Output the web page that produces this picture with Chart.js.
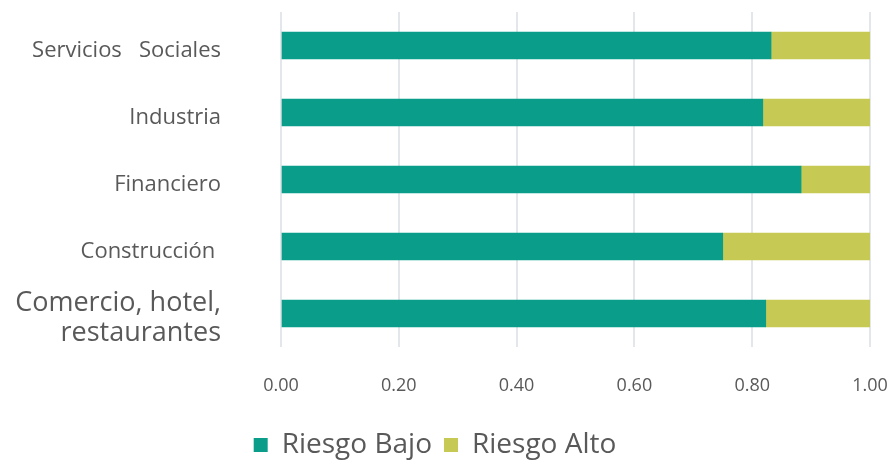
<!DOCTYPE html>
<html>
<head>
<meta charset="utf-8">
<script src="https://cdn.jsdelivr.net/npm/chart.js@4"></script>
<style>
  html, body { margin: 0; padding: 0; background: #fff; }
  #wrap { width: 891px; height: 461px; }
</style>
</head>
<body>
<div id="wrap"><canvas id="chart" width="891" height="461"></canvas></div>
<script>
const categories = [
  "Servicios   Sociales",
  "Industria",
  "Financiero",
  "Construcción ",
  ["Comercio, hotel,", "restaurantes"]
];
const riesgoBajo = [0.832, 0.818, 0.883, 0.750, 0.823];
const riesgoAlto = [0.168, 0.182, 0.117, 0.250, 0.177];
const xTicks = [0, 0.2, 0.4, 0.6, 0.8, 1.0];

const textColor = "#595959";
const fontFamily = "'Open Sans', Lato, sans-serif";

const ctx = document.getElementById("chart").getContext("2d");
new Chart(ctx, {
  type: "bar",
  data: {
    labels: categories,
    datasets: [
      { label: "Riesgo Bajo", data: riesgoBajo, backgroundColor: "#0A9E8A", barThickness: 27 },
      { label: "Riesgo Alto", data: riesgoAlto, backgroundColor: "#C7C955", barThickness: 27 }
    ]
  },
  options: {
    indexAxis: "y",
    responsive: false,
    animation: false,
    layout: { padding: { top: 12, right: 21, left: 0, bottom: -8 } },
    scales: {
      x: {
        stacked: true,
        min: 0,
        max: 1,
        afterBuildTicks: axis => { axis.ticks = xTicks.map(v => ({ value: v })); },
        afterFit: axis => { axis.height = 72; axis.paddingLeft = 0; axis.paddingRight = 0; },
        grid: { color: "#E3E6EA", lineWidth: 2, drawTicks: false },
        border: { display: false },
        ticks: {
          color: textColor,
          padding: 28,
          font: { family: fontFamily, size: 18 },
          callback: v => Number(v).toFixed(2)
        }
      },
      y: {
        stacked: true,
        grid: { display: false },
        border: { display: false },
        afterFit: axis => { axis.width = 281; axis.paddingTop = 0; axis.paddingBottom = 0; },
        ticks: {
          autoSkip: false,
          color: textColor,
          padding: 52,
          labelOffset: 5,
          font: c => c.index === 4
            ? { family: fontFamily, size: 27, lineHeight: 1.1 }
            : { family: fontFamily, size: 22 }
        }
      }
    },
    plugins: {
      tooltip: { enabled: false },
      legend: {
        position: "bottom",
        labels: {
          color: textColor,
          font: { family: fontFamily, size: 28 },
          boxWidth: 14,
          boxHeight: 14,
          padding: 12
        }
      }
    }
  }
});
</script>
</body>
</html>
